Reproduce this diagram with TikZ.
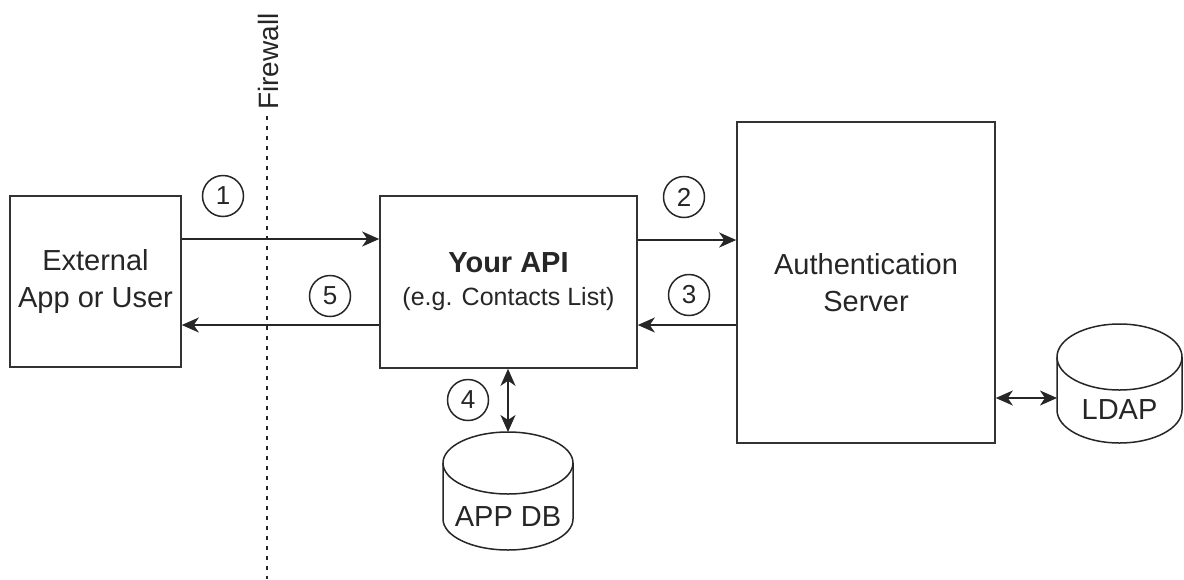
\documentclass[tikz,border=0pt]{standalone}
\usepackage{fontspec}
\setmainfont{Liberation Sans}
\usetikzlibrary{arrows.meta}
\begin{document}
\begin{tikzpicture}[x=1pt,y=-1pt,
  box/.style={draw=black!80, line width=1.6pt, inner sep=0pt, align=center,
    font=\fontsize{29}{37}\selectfont, text=black!85},
  arr/.style={line width=1.6pt, draw=black!85, -{Stealth[length=17pt,width=15pt,inset=5pt]}},
  darr/.style={line width=1.6pt, draw=black!85, {Stealth[length=17pt,width=15pt,inset=5pt]}-{Stealth[length=17pt,width=15pt,inset=5pt]}},
  num/.style={circle, draw=black!85, line width=1.5pt, minimum size=41pt, inner sep=0pt,
    font=\fontsize{26}{26}\selectfont, text=black!85},
  cyl/.style={draw=black!85, line width=1.5pt, fill=white},
  lbl/.style={font=\fontsize{29}{29}\selectfont, text=black!85, inner sep=0pt},
  fwline/.style={draw=black!85, line width=1.5pt, dash pattern=on 4pt off 6pt},
]
\useasboundingbox (0,0) rectangle (1184,579);

% Firewall
\node[rotate=90, anchor=west, inner sep=0pt, font=\fontsize{28}{28}\selectfont, text=black!85] (fw) at (268,110) {Firewall};
\coordinate (fwtop) at (267,116);
\coordinate (fwbot) at (267,579);
\draw[fwline] (fwtop) -- (fwbot);

% Boxes
\node[box, minimum width=171pt, minimum height=171pt] (ext) at (95.5,281.5) {\raisebox{-4pt}{External}\\\raisebox{-4pt}{App or User}};
\node[box, minimum width=257pt, minimum height=172pt, font=\fontsize{29}{33}\selectfont] (api) at (508.5,282)
  {\raisebox{-3pt}{\textbf{Your API}}\\{\fontsize{25}{33}\selectfont \raisebox{-3pt}{(e.g. Contacts List)}}};
\node[box, minimum width=258pt, minimum height=321pt] (auth) at (866,282.5) {Authentication\\Server};

% APP DB cylinder
\draw[cyl] (443,463) -- (443,519) arc[start angle=180, end angle=360, x radius=65pt, y radius=31pt] -- (573,463);
\draw[cyl] (508,463) ellipse [x radius=65pt, y radius=31pt];
\node[lbl] (appdb) at (508,517) {APP DB};
\coordinate (dbtop) at (508,432);

% LDAP cylinder
\draw[cyl] (1057,357) -- (1057,410) arc[start angle=180, end angle=360, x radius=62.5pt, y radius=33pt] -- (1182,357);
\draw[cyl] (1119.5,357) ellipse [x radius=62.5pt, y radius=33pt];
\node[lbl] (ldap) at (1119.5,410) {LDAP};
\coordinate (ldapleft) at (1057,398);

% Connectors
\draw[arr] (ext.east |- 0,239) -- (api.west |- 0,239);
\draw[arr] (api.west |- 0,325) -- (ext.east |- 0,325);
\draw[arr] (api.east |- 0,240) -- (auth.west |- 0,240);
\draw[arr] (auth.west |- 0,325) -- (api.east |- 0,325);
\draw[darr] (api.south -| dbtop) -- (dbtop);
\draw[darr] (auth.east |- ldapleft) -- (ldapleft);

% Step numbers
\node[num] (n1) at (223,196) {1};
\node[num] (n2) at (684,197) {2};
\node[num] (n3) at (689,295) {3};
\node[num] (n4) at (468,400) {4};
\node[num] (n5) at (330,296) {5};
\end{tikzpicture}
\end{document}
